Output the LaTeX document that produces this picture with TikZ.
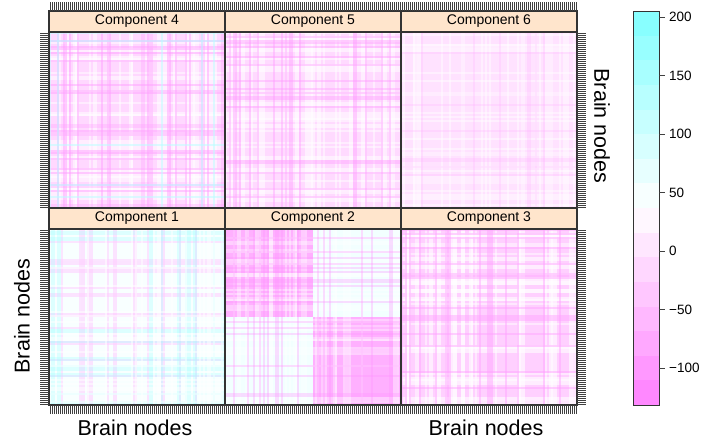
\documentclass[tikz,border=0pt]{standalone}
\usepackage{fontspec}
\setmainfont{Liberation Sans}
\definecolor{mag}{HTML}{FF80FF}
\definecolor{cya}{HTML}{80FFFF}
\definecolor{stripbg}{HTML}{FFE5CC}
\definecolor{framec}{HTML}{333333}
\definecolor{bgA}{HTML}{FFD8FF}
\definecolor{bgB}{HTML}{FFDAFF}
\definecolor{bgC}{HTML}{FFE2FF}
\definecolor{bgD}{HTML}{F8FFFF}
\definecolor{bgE}{HTML}{FFB0FF}
\definecolor{bgF}{HTML}{F2FFFF}
\definecolor{bgG}{HTML}{FFD0FF}
\definecolor{mA}{HTML}{FF9CFF}
\definecolor{mB}{HTML}{FF99FF}
\definecolor{mC}{HTML}{FFB0FF}
\definecolor{mD}{HTML}{FFCCFF}
\definecolor{mE}{HTML}{FF90FF}
\definecolor{mF}{HTML}{FFA0FF}
\definecolor{cA}{HTML}{B8FFFF}
\definecolor{cB}{HTML}{A0FFFF}
\tikzset{
  framebox/.style={draw=framec,line width=1.1pt},
  stripbox/.style={draw=framec,line width=1.1pt,fill=stripbg,minimum width=176pt,minimum height=21pt,inner sep=0pt,font=\fontsize{14}{16}\selectfont},
  tickln/.style={draw=black!75,line width=0.6pt},
  axlabel/.style={font=\fontsize{21.5}{24}\selectfont,inner sep=0pt},
  barlabel/.style={font=\fontsize{13.5}{15}\selectfont,anchor=west,inner sep=0pt}
}
% #1 x0, #2 y0, #3 seed, #4 colour, #5 probability, #6 opacity, #7 stripe width
\newcommand\myplaid[7]{%
  \pgfmathsetseed{#3}%
  \pgfmathtruncatemacro\nn{176/#7-1}%
  \foreach \i in {0,...,\nn}{%
    \pgfmathsetmacro\aa{rnd}%
    \pgfmathsetmacro\xx{#1+#7*\i}%
    \pgfmathsetmacro\yy{#2+#7*\i}%
    \ifdim\aa pt<#5pt
      \fill[#4,opacity=#6] (\xx,#2) rectangle (\xx+#7,#2+176);
      \fill[#4,opacity=#6] (#1,\yy) rectangle (#1+176,\yy+#7);
    \fi
  }%
}
\begin{document}
\begin{tikzpicture}[x=1pt,y=-1pt]
\useasboundingbox (0,0) rectangle (704,442);
\fill[white] (0,0) rectangle (704,442);

% ---------- Component 4 ----------
\fill[bgA] (49,32) rectangle (225,208);
\myplaid{49}{32}{11}{white}{0.30}{0.55}{4}
\myplaid{49}{32}{14}{white}{0.15}{0.5}{2}
\myplaid{49}{32}{12}{mA}{0.15}{0.45}{2}
\myplaid{49}{32}{15}{mA}{0.10}{0.3}{4}
\myplaid{49}{32}{13}{cA}{0.06}{0.5}{2}
% ---------- Component 5 ----------
\fill[bgB] (225,32) rectangle (401,208);
\myplaid{225}{32}{21}{white}{0.30}{0.55}{4}
\myplaid{225}{32}{23}{white}{0.20}{0.5}{2}
\myplaid{225}{32}{22}{mB}{0.20}{0.4}{2}
% ---------- Component 6 ----------
\fill[bgC] (401,32) rectangle (577,208);
\myplaid{401}{32}{31}{white}{0.20}{0.45}{2}
\myplaid{401}{32}{33}{white}{0.15}{0.35}{4}
\myplaid{401}{32}{32}{mC}{0.10}{0.25}{2}
% ---------- Component 1 ----------
\fill[bgD] (49,229) rectangle (225,405);
\myplaid{49}{229}{41}{mD}{0.12}{0.55}{4}
\myplaid{49}{229}{44}{mD}{0.10}{0.5}{2}
\myplaid{49}{229}{42}{cB}{0.12}{0.3}{4}
\myplaid{49}{229}{45}{cB}{0.06}{0.3}{2}
\myplaid{49}{229}{43}{white}{0.20}{0.5}{2}
% ---------- Component 2 ----------
\fill[bgE] (225,229) rectangle (313,317);
\fill[bgE] (313,317) rectangle (401,405);
\fill[bgF] (313,229) rectangle (401,317);
\fill[bgF] (225,317) rectangle (313,405);
\myplaid{225}{229}{51}{white}{0.20}{0.4}{2}
\myplaid{225}{229}{53}{white}{0.15}{0.35}{4}
\myplaid{225}{229}{52}{mE}{0.15}{0.3}{2}
% ---------- Component 3 ----------
\fill[bgG] (401,229) rectangle (577,405);
\myplaid{401}{229}{61}{white}{0.30}{0.6}{4}
\myplaid{401}{229}{63}{white}{0.15}{0.5}{2}
\myplaid{401}{229}{62}{mF}{0.20}{0.45}{2}

% ---------- frames ----------
\draw[framebox] (49,32) rectangle (225,208);
\draw[framebox] (225,32) rectangle (401,208);
\draw[framebox] (401,32) rectangle (577,208);
\draw[framebox] (49,229) rectangle (225,405);
\draw[framebox] (225,229) rectangle (401,405);
\draw[framebox] (401,229) rectangle (577,405);

% ---------- strips ----------
\node[stripbox] (s4) at (137,21.5) {Component 4};
\node[stripbox] (s5) at (313,21.5) {Component 5};
\node[stripbox] (s6) at (489,21.5) {Component 6};
\node[stripbox] (s1) at (137,218.5) {Component 1};
\node[stripbox] (s2) at (313,218.5) {Component 2};
\node[stripbox] (s3) at (489,218.5) {Component 3};

% ---------- ticks ----------
\foreach \k in {0,...,263}{
  \draw[tickln] (50+2*\k,2) -- (50+2*\k,11);
  \draw[tickln] (50+2*\k,405) -- (50+2*\k,414);
}
\foreach \k in {0,...,87}{
  \draw[tickln] (40,33+2*\k) -- (49,33+2*\k);
  \draw[tickln] (40,230+2*\k) -- (49,230+2*\k);
  \draw[tickln] (577,33+2*\k) -- (586,33+2*\k);
  \draw[tickln] (577,230+2*\k) -- (586,230+2*\k);
}

% ---------- axis labels ----------
\node[axlabel] (xl1) at (135,428) {Brain nodes};
\node[axlabel] (xl2) at (486,428) {Brain nodes};
\node[axlabel,rotate=90] (yl1) at (22,316) {Brain nodes};
\node[axlabel,rotate=-90] (yl2) at (602,126) {Brain nodes};

% ---------- colour bar ----------
\foreach \k in {0,...,15}{
  \pgfmathsetmacro\tt{(\k+0.5)/16}
  \pgfmathsetmacro\ya{405-24.625*\k}
  \pgfmathsetmacro\yb{405-24.625*(\k+1)}
  \ifnum\k<8
    \pgfmathsetmacro\pp{100*(1-2*\tt)}
    \fill[mag!\pp!white] (633,\ya) rectangle (659,\yb);
  \else
    \pgfmathsetmacro\pp{100*(2*\tt-1)}
    \fill[cya!\pp!white] (633,\ya) rectangle (659,\yb);
  \fi
}
\draw[draw=framec,line width=0.8pt] (633,11) rectangle (659,405);
\foreach \v/\lab [count=\c] in {200/200,150/150,100/100,50/50,0/0,-50/−50,-100/−100}{
  \pgfmathsetmacro\yv{251-\v*58.5/50}
  \draw[tickln,line width=0.8pt] (659,\yv) -- (665,\yv);
  \node[barlabel] (bl\c) at (669,\yv) {\lab};
}
\end{tikzpicture}
\end{document}
